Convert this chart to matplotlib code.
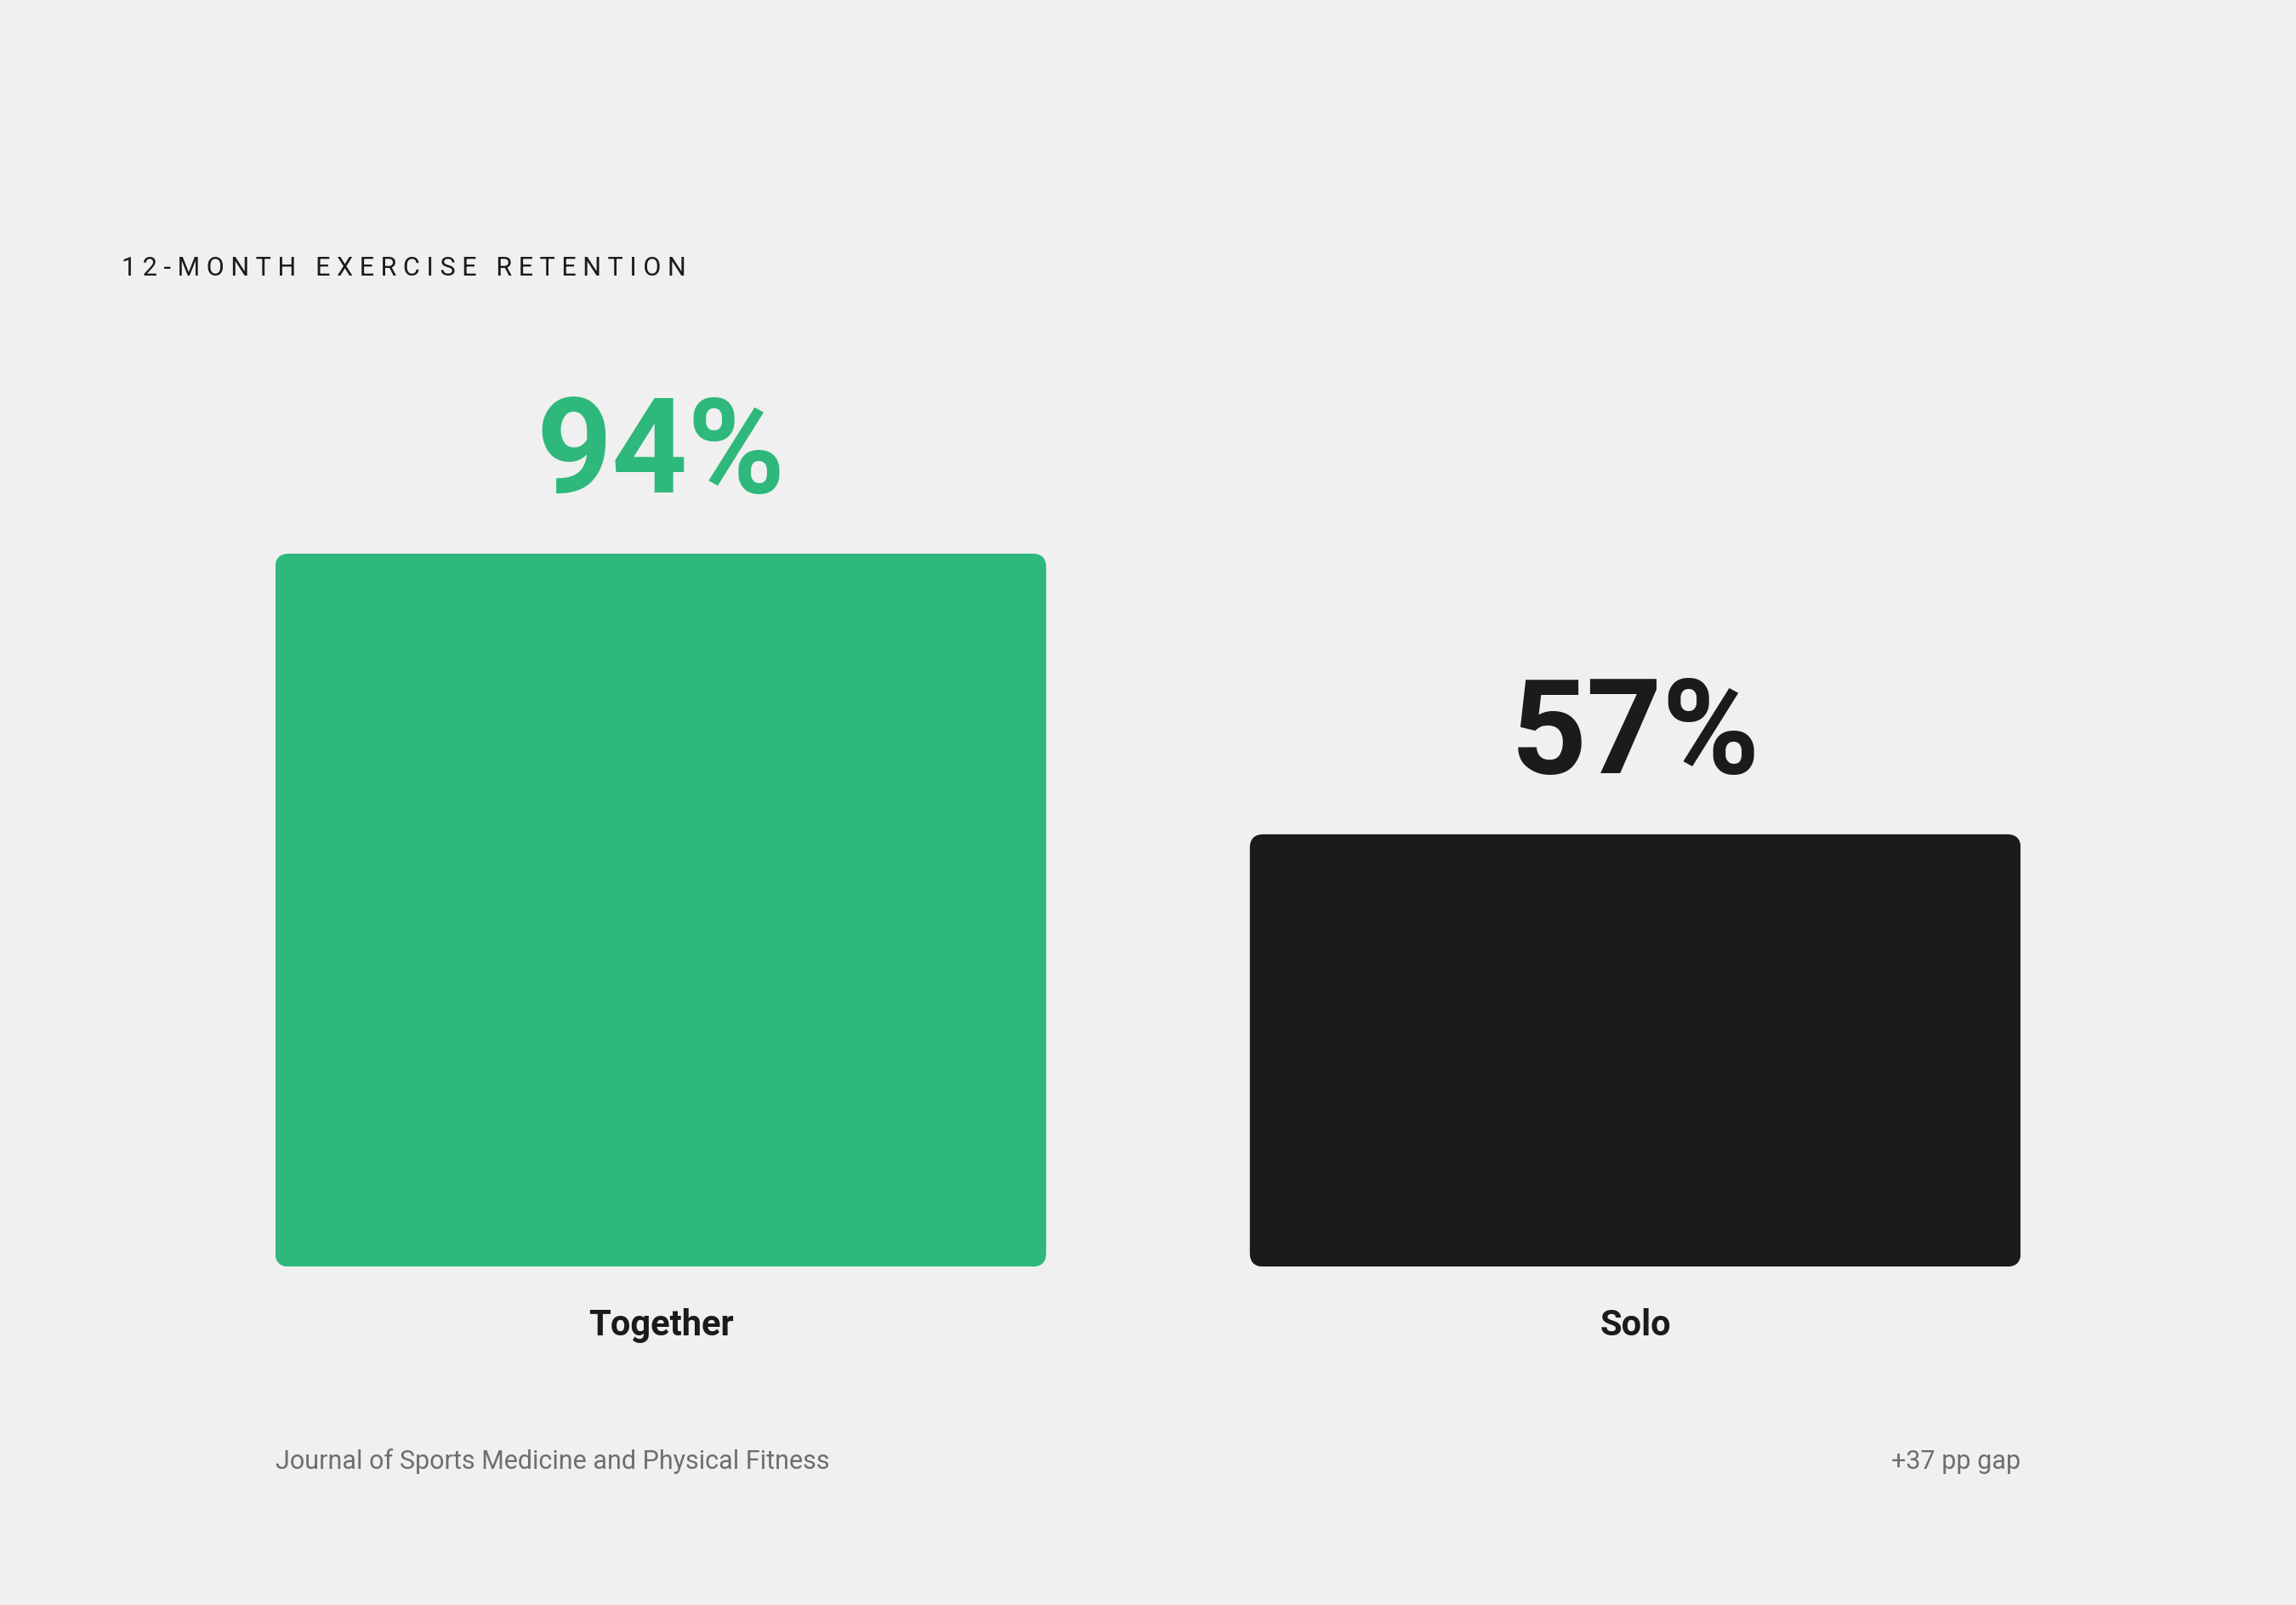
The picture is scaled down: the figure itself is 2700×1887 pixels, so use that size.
import matplotlib
matplotlib.use("Agg")
import matplotlib.pyplot as plt
from matplotlib.patches import FancyBboxPatch

categories = ["Together", "Solo"]
values = [94, 57]
value_labels = ["94%", "57%"]
colors = ["#2EB87B", "#1B1B19"]
title = "12-MONTH EXERCISE RETENTION"
source = "Journal of Sports Medicine and Physical Fitness"
note = "+37 pp gap"

plt.rcParams['font.family'] = ['Roboto', 'DejaVu Sans']
BG = "#F0F0F0"
fig = plt.figure(figsize=(27, 18.87), dpi=100, facecolor=BG)
ax = fig.add_axes([0.1199, 0.2108, 0.7602, 0.4726])
ax.set_facecolor(BG)
w = 0.791
ax.set_xlim(-w / 2, 1 + w / 2)
ax.set_ylim(0, 100)
ax.axis("off")

for i, (v, c, lab) in enumerate(zip(values, colors, value_labels)):
    p = FancyBboxPatch((i - w / 2, 0), w, v,
                       boxstyle="round,pad=0,rounding_size=0.014",
                       mutation_aspect=128, fc=c, ec="none")
    ax.add_patch(p)
    ax.text(i, v + 4.5, lab, ha="center", va="bottom", fontsize=112,
            fontweight="bold", color=c)
    ax.text(i, -5.5, categories[i], ha="center", va="top", fontsize=30,
            fontweight="bold", color="#1B1B19")

def spaced(s):
    return "   ".join(" ".join(wd) for wd in s.split(" "))

fig.text(83 / 1568, 1 - 183 / 1096, spaced(title), ha="left", va="center",
         fontsize=22, color="#1B1B19")
fig.text(188 / 1568, 1 - 998 / 1096, source, ha="left", va="center",
         fontsize=22, color="#6E6E6E")
fig.text(1380 / 1568, 1 - 998 / 1096, note, ha="right", va="center",
         fontsize=22, color="#6E6E6E")

fig.savefig("out.png", dpi=100, facecolor=BG)
